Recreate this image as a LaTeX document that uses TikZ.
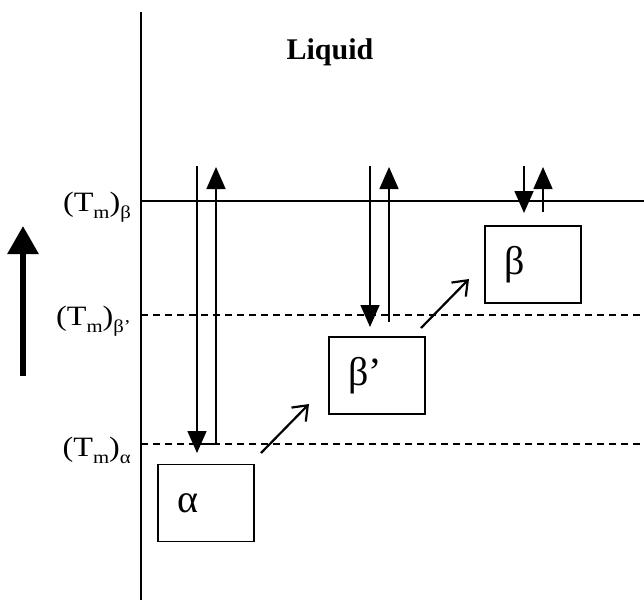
\documentclass[tikz,border=0pt]{standalone}
\usepackage{fontspec}
\setmainfont{Liberation Serif}
\usetikzlibrary{arrows.meta}
\tikzset{
  ln/.style={line width=1.6pt},
  dashln/.style={line width=1.6pt, dash pattern=on 7pt off 5pt},
  fa/.style={line width=1.6pt, -{Triangle[width=19pt,length=22pt]}},
  oa/.style={line width=2.2pt, -{Straight Barb[width=20pt,length=13pt,line width=2.2pt]}},
  phase/.style={draw, line width=1.6pt, minimum width=96pt, minimum height=77pt, inner sep=0pt, font=\fontsize{40}{40}\selectfont},
  tlab/.style={anchor=east, inner sep=0pt, font=\fontsize{28}{28}\selectfont},
}
\newcommand{\subsc}[1]{\raisebox{-7pt}{\fontsize{18}{18}\selectfont #1}}
\newcommand{\tmlabel}[1]{\scalebox{1.15}[1]{(T\subsc{m})\subsc{#1}}}
\newcommand{\phtext}[1]{\makebox[96pt][l]{\hspace*{19pt}#1}}
\begin{document}
\begin{tikzpicture}[x=1pt,y=-1pt]
\useasboundingbox (0,0) rectangle (644,600);
% axis
\coordinate (axT) at (141,12);
\coordinate (axB) at (141,600);
\draw[ln] (axT) -- (axB);
% level lines
\coordinate (lb1) at (141,201); \coordinate (lb2) at (644,201);
\coordinate (lp1) at (141,315); \coordinate (lp2) at (644,315);
\coordinate (la1) at (141,444); \coordinate (la2) at (644,444);
\draw[ln] (lb1) -- (lb2);
\draw[dashln] (lp1) -- (lp2);
\draw[dashln] (la1) -- (la2);
% labels
\node[tlab] (tb) at (131,207) {\tmlabel{β}};
\node[tlab] (tp) at (131,321) {\tmlabel{β’}};
\node[tlab] (ta) at (131,450) {\tmlabel{α}};
\node[font=\bfseries\fontsize{30}{30}\selectfont] (liq) at (330,52) {Liquid};
% big arrow
\coordinate (bigS) at (23,376);
\coordinate (bigE) at (23,226);
\draw[line width=6pt, -{Triangle[width=30pt,length=28pt]}] (bigS) -- (bigE);
% boxes
\node[phase] (alpha) at (206,503) {\phtext{α}};
\node[phase] (betap) at (377,375.5) {\phtext{β’}};
\node[phase] (beta) at (533,264.5) {\phtext{β}};
% vertical arrows
\coordinate (d1s) at (197,166); \coordinate (d1e) at (197,453);
\coordinate (u1s) at (216,444); \coordinate (u1e) at (216,167);
\draw[fa] (d1s) -- (d1e);
\draw[ln] (u1s) -- (197,444);
\draw[fa] (u1s) -- (u1e);
\coordinate (d2s) at (370,166); \coordinate (d2e) at (370,327);
\coordinate (u2s) at (389,322); \coordinate (u2e) at (389,167);
\draw[fa] (d2s) -- (d2e);
\draw[fa] (u2s) -- (u2e);
\coordinate (d3s) at (524,166); \coordinate (d3e) at (524,213);
\coordinate (u3s) at (543,212); \coordinate (u3e) at (543,167);
\draw[fa] (d3s) -- (d3e);
\draw[fa] (u3s) -- (u3e);
% diagonal arrows
\coordinate (g1s) at (261,453); \coordinate (g1e) at (309,404);
\coordinate (g2s) at (421,328); \coordinate (g2e) at (469,279);
\draw[oa] (g1s) -- (g1e);
\draw[oa] (g2s) -- (g2e);
\end{tikzpicture}
\end{document}
